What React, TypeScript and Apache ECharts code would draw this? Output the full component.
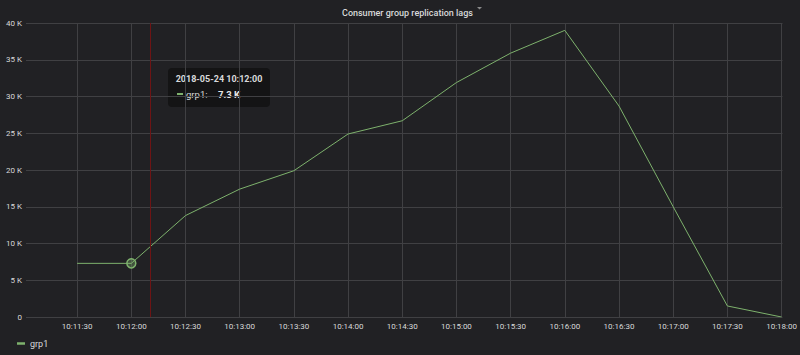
import React, { useEffect, useRef } from "react";
import * as echarts from "echarts";

// ---- data ----
const TITLE = "Consumer group replication lags";
const SERIES_NAME = "grp1";
const TIMES = [
  "10:11:30", "10:12:00", "10:12:30", "10:13:00", "10:13:30", "10:14:00", "10:14:30",
  "10:15:00", "10:15:30", "10:16:00", "10:16:30", "10:17:00", "10:17:30", "10:18:00",
];
const GRP1 = [7300, 7300, 13800, 17400, 19900, 24900, 26700, 31900, 35900, 39000, 28700, 15000, 1500, 0];
const X_TICKS = [
  "10:11:30", "10:12:00", "10:12:30", "10:13:00", "10:13:30", "10:14:00", "10:14:30",
  "10:15:00", "10:15:30", "10:16:00", "10:16:30", "10:17:00", "10:17:30", "10:18:00",
];
const X_MIN = "10:11:01.7";
const X_MAX = "10:18:00.5";
const Y_MIN = 0;
const Y_MAX = 40000;
const Y_STEP = 5000;
const HOVER_DATE = "2018-05-24";
const HOVER_TIME = "10:12:00";
const CROSSHAIR_TIME = "10:12:10.7";

// ---- helpers ----
const toSec = (s: string) => {
  const [h, m, sec] = s.split(":").map(Number);
  return h * 3600 + m * 60 + sec;
};
const pad = (n: number) => String(n).padStart(2, "0");
const fmtTime = (v: number) => {
  const t = Math.round(v);
  return `${pad(Math.floor(t / 3600))}:${pad(Math.floor((t % 3600) / 60))}:${pad(t % 60)}`;
};
const fmtK = (v: number) => (v === 0 ? "0" : `${v / 1000} K`);

const GREEN = "#7EB26D";
const TEXT = "#d8d9da";
const BG = "#212124";
const GRID = "#404043";
const FONT = "Roboto, 'Liberation Sans', sans-serif";

export default function App() {
  const ref = useRef<HTMLDivElement>(null);
  useEffect(() => {
    if (!ref.current) return;
    const chart = echarts.init(ref.current, null, { renderer: "svg" });
    const hoverIdx = TIMES.indexOf(HOVER_TIME);
    const hoverVal = GRP1[hoverIdx];
    const data = TIMES.map((t, i) =>
      i === hoverIdx
        ? {
            value: [toSec(t), GRP1[i]],
            symbol: "circle",
            symbolSize: 9,
            itemStyle: { color: "rgba(126,178,109,0.35)", borderColor: GREEN, borderWidth: 1.5 },
          }
        : { value: [toSec(t), GRP1[i]] }
    );
    const tickVals = X_TICKS.map(toSec);
    chart.setOption({
      animation: false,
      backgroundColor: BG,
      textStyle: { fontFamily: FONT },
      title: {
        text: TITLE,
        left: 337,
        top: 3,
        textStyle: { color: TEXT, fontSize: 9, fontWeight: 500, fontFamily: FONT },
      },
      grid: { left: 26, right: 16, top: 23, bottom: 38, containLabel: false },
      legend: {
        left: 12,
        top: 334,
        icon: "rect",
        itemWidth: 8,
        itemHeight: 2.5,
        textStyle: { color: TEXT, fontSize: 9, fontFamily: FONT },
        data: [SERIES_NAME],
      },
      xAxis: {
        type: "value",
        min: toSec(X_MIN),
        max: toSec(X_MAX),
        axisLine: { show: false },
        axisTick: { show: false, customValues: tickVals },
        axisLabel: {
          customValues: tickVals,
          formatter: (v: number) => fmtTime(v),
          color: TEXT,
          fontSize: 8,
          margin: 5,
          fontFamily: FONT,
        },
        splitLine: { show: true, lineStyle: { color: GRID, width: 1 } },
      },
      yAxis: {
        type: "value",
        min: Y_MIN,
        max: Y_MAX,
        interval: Y_STEP,
        axisLine: { show: false },
        axisTick: { show: false },
        axisLabel: { formatter: fmtK, color: TEXT, fontSize: 8, margin: 4, fontFamily: FONT },
        splitLine: { show: true, lineStyle: { color: GRID, width: 1 } },
      },
      series: [
        {
          name: SERIES_NAME,
          type: "line",
          data,
          symbol: "none",
          showSymbol: true,
          color: GREEN,
          lineStyle: { color: GREEN, width: 1 },
          markLine: {
            silent: true,
            symbol: "none",
            label: { show: false },
            lineStyle: { color: "#6e1414", width: 1, type: "solid" },
            data: [{ xAxis: toSec(CROSSHAIR_TIME) }],
          },
        },
      ],
      graphic: [
        {
          type: "polygon",
          shape: { points: [[477, 7], [482, 7], [479.5, 9.5]] },
          style: { fill: "#8a8a8a" },
          z: 100,
        },
        {
          type: "group",
          left: 168,
          top: 68,
          z: 100,
          children: [
            {
              type: "rect",
              shape: { x: 0, y: 0, width: 102, height: 39, r: 4 },
              style: { fill: "#141415" },
            },
            {
              type: "text",
              x: 51,
              y: 11,
              style: {
                text: `${HOVER_DATE} ${HOVER_TIME}`,
                fill: TEXT,
                font: `bold 9px ${FONT}`,
                align: "center",
                verticalAlign: "middle",
              },
            },
            {
              type: "rect",
              shape: { x: 9, y: 25, width: 6, height: 2 },
              style: { fill: GREEN },
            },
            {
              type: "text",
              x: 18,
              y: 26,
              style: {
                text: `${SERIES_NAME}:`,
                fill: TEXT,
                font: `9.5px ${FONT}`,
                align: "left",
                verticalAlign: "middle",
              },
            },
            {
              type: "text",
              x: 50,
              y: 26,
              style: {
                text: `${(hoverVal / 1000).toFixed(1)} K`,
                fill: "#e8e8e8",
                font: `bold 9.5px ${FONT}`,
                align: "left",
                verticalAlign: "middle",
              },
            },
          ],
        },
      ],
    });
    return () => chart.dispose();
  }, []);
  return (
    <div
      ref={ref}
      style={{ position: "fixed", left: 0, top: 0, width: 800, height: 355, background: BG }}
    />
  );
}
